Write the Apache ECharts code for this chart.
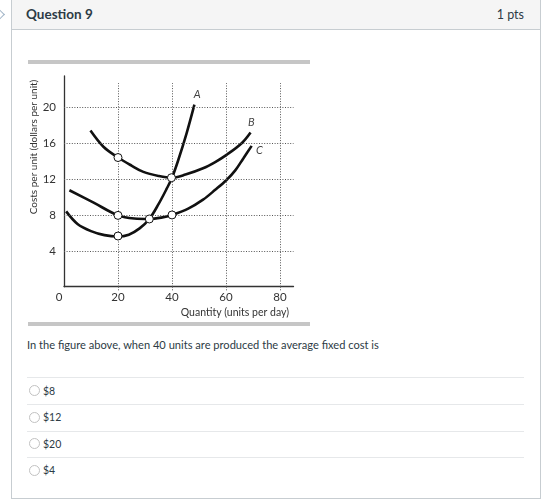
<!DOCTYPE html>
<html><head><meta charset="utf-8">
<script src="https://cdn.jsdelivr.net/npm/echarts@6/dist/echarts.min.js"></script>
<style>
html,body{margin:0;padding:0;width:560px;height:503px;overflow:hidden;background:#fff;font-family:Lato,'Noto Sans',sans-serif;color:#2d3b45;}
.abs{position:absolute;}
#card{left:11px;top:-1px;width:530px;height:500px;border:1px solid #c7cdd1;box-sizing:border-box;}
#hdr{left:12px;top:0;width:528px;height:29px;background:#f5f5f5;border-bottom:1px solid #c7cdd1;}
#qt{left:26px;top:0;line-height:29px;font-size:13.5px;font-weight:bold;}
#pts{right:36px;top:0;line-height:29px;font-size:12.5px;}
#chev{left:-6px;top:10px;width:8px;height:8px;border-top:1px solid #9fb3c6;border-right:1px solid #9fb3c6;transform:rotate(45deg);}
.bar{left:28px;width:282px;height:4px;background:#c6c6c6;}
#qtext{left:27px;top:337px;font-size:11.1px;line-height:16px;white-space:nowrap;}
.sep{left:27px;width:497px;height:1px;background:#e6e8ea;}
.radio{left:29px;width:9px;height:9px;border:1px solid #c2c2c2;border-radius:50%;background:#fff;}
.opt{left:43px;font-size:10.5px;line-height:14px;}
#chart{left:0;top:0;width:560px;height:503px;}
</style></head>
<body>
<div id="card" class="abs"></div>
<div id="hdr" class="abs"></div>
<div id="chev" class="abs"></div>
<div id="qt" class="abs">Question 9</div>
<div id="pts" class="abs">1 pts</div>
<div class="abs bar" style="top:60px"></div>
<div class="abs bar" style="top:322px"></div>
<div id="qtext" class="abs">In the ﬁgure above, when 40 units are produced the average ﬁxed cost is</div>
<div class="abs sep" style="top:377px"></div>
<div class="abs sep" style="top:404px"></div>
<div class="abs sep" style="top:431px"></div>
<div class="abs sep" style="top:457px"></div>
<div class="abs radio" style="top:385px"></div><div class="abs opt" style="top:384px">$8</div>
<div class="abs radio" style="top:412px"></div><div class="abs opt" style="top:410px">$12</div>
<div class="abs radio" style="top:438px"></div><div class="abs opt" style="top:437px">$20</div>
<div class="abs radio" style="top:465px"></div><div class="abs opt" style="top:463px">$4</div>
<div id="chart" class="abs"></div>
<script>
// ---- data ----
const xTicks = [0, 20, 40, 60, 80];
const yTicks = [4, 8, 12, 16, 20];
// Curve A (marginal cost)
const curveAQty  = [0.8, 5, 10, 15, 20, 24, 28, 31.6, 35, 38, 40, 42.3, 45.4, 48.3];
const curveACost = [8.4, 7.0, 6.2, 5.75, 5.6, 5.8, 6.5, 7.55, 9.2, 10.9, 12.15, 14.1, 17.1, 20.3];
// Curve B (average total cost)
const curveBQty  = [9.8, 14.6, 20, 25, 29.4, 35, 39.8, 45, 51.5, 56, 60.2, 65.8, 69.1];
const curveBCost = [17.4, 15.6, 14.4, 13.5, 12.8, 12.35, 12.15, 12.5, 13.2, 13.9, 14.7, 16.0, 17.2];
// Curve C (average variable cost)
const curveCQty  = [2, 10.8, 20, 26, 31.6, 36, 40, 46, 51.5, 56, 60.2, 63.5, 66.4, 69.5];
const curveCCost = [10.75, 9.4, 7.95, 7.6, 7.55, 7.7, 8.0, 8.7, 9.7, 10.8, 11.9, 13.0, 14.3, 15.7];
// highlighted points
const pointQty  = [20, 39.8, 20, 31.6, 40, 20];
const pointCost = [14.4, 12.15, 7.95, 7.55, 8.0, 5.65];
// curve labels
const curveNames = ['A', 'B', 'C'];
const labelQty  = [49.3, 69.4, 72.4];
const labelCost = [21.4, 18.3, 15.2];

const zip = (a, b) => a.map((v, i) => [v, b[i]]);
const X_MAX = 85, Y_MAX = 23.5, VGRID_TOP = 22.7;
const PX_X = 2.7, PX_Y = 8.97, X0 = 64, Y0 = 286.7;

const dotted = {type: [1, 1.6], color: '#555', width: 1};
const curveStyle = {color: '#111', width: 2.6};
const chart = echarts.init(document.getElementById('chart'));
chart.setOption({
  animation: false,
  grid: {left: X0, top: Y0 - Y_MAX * PX_Y, width: X_MAX * PX_X, height: Y_MAX * PX_Y},
  xAxis: {
    type: 'value', min: 0, max: X_MAX, interval: 20,
    axisLine: {lineStyle: {color: '#333', width: 1.3}},
    axisTick: {show: true, length: 4, lineStyle: dotted, customValues: xTicks.slice(1)},
    splitLine: {show: false},
    axisLabel: {
      margin: 5, color: '#333', fontSize: 11.5, fontFamily: 'Lato',
      customValues: xTicks,
      formatter: v => v === xTicks[0] ? '{z|' + v + '}' : String(v),
      rich: {z: {padding: [0, 10, 0, 0], fontSize: 11.5, color: '#333', fontFamily: 'Lato'}}
    }
  },
  yAxis: {
    type: 'value', min: 0, max: Y_MAX, interval: 4,
    axisLine: {show: true, lineStyle: {color: '#333', width: 1.3}},
    axisTick: {show: false},
    splitLine: {show: false},
    axisLabel: {
      margin: 8, color: '#333', fontSize: 11.5, fontFamily: 'Lato',
      customValues: yTicks
    }
  },
  graphic: [
    {type: 'text', x: 34, y: 147, rotation: Math.PI / 2,
     style: {text: 'Costs per unit (dollars per unit)', fill: '#333', font: '10px Lato', align: 'center', verticalAlign: 'middle'}},
    {type: 'text', x: 289, y: 313,
     style: {text: 'Quantity (units per day)', fill: '#333', font: '10.5px Lato', align: 'right', verticalAlign: 'middle'}}
  ],
  series: [
    {type: 'line', data: [], symbol: 'none', silent: true,
     markLine: {symbol: 'none', silent: true, label: {show: false}, lineStyle: dotted,
       data: xTicks.slice(1).map(x => [{coord: [x, 0]}, {coord: [x, VGRID_TOP]}])
         .concat(yTicks.map(y => [{coord: [0, y]}, {coord: [X_MAX, y]}]))}},
    {type: 'line', name: 'A', data: zip(curveAQty, curveACost), smooth: 0.35, symbol: 'none', lineStyle: curveStyle, z: 3},
    {type: 'line', name: 'B', data: zip(curveBQty, curveBCost), smooth: 0.35, symbol: 'none', lineStyle: curveStyle, z: 3},
    {type: 'line', name: 'C', data: zip(curveCQty, curveCCost), smooth: 0.35, symbol: 'none', lineStyle: curveStyle, z: 3},
    {type: 'scatter', data: zip(pointQty, pointCost), symbol: 'circle', symbolSize: 8, z: 5,
     itemStyle: {color: '#ffffff', borderColor: '#111', borderWidth: 1, opacity: 1}},
    {type: 'scatter', data: zip(labelQty, labelCost).map((p, i) => ({value: p, name: curveNames[i]})),
     symbolSize: 0, z: 5,
     label: {show: true, position: 'inside', formatter: '{b}', color: '#111', fontSize: 11, fontStyle: 'italic', fontFamily: 'Lato'}}
  ]
});
</script>
</body></html>
